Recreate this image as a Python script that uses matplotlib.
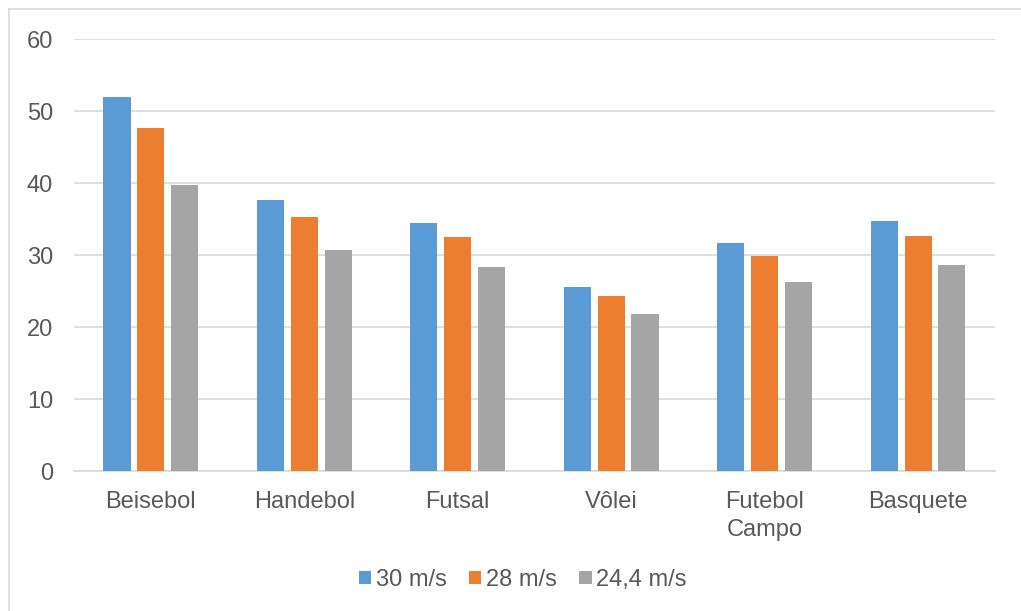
import numpy as np
import matplotlib.pyplot as plt
from matplotlib.lines import Line2D
from matplotlib.patches import Patch

categories = ["Beisebol", "Handebol", "Futsal", "Vôlei", "Futebol\nCampo", "Basquete"]
series_names = ["30 m/s", "28 m/s", "24,4 m/s"]
v30 = [51.9, 37.7, 34.5, 25.5, 31.7, 34.7]
v28 = [47.6, 35.3, 32.5, 24.3, 29.9, 32.7]
v24 = [39.8, 30.7, 28.4, 21.8, 26.3, 28.6]
yticks = [0, 10, 20, 30, 40, 50, 60]

colors = ["#5B9BD5", "#ED7D31", "#A5A5A5"]
text_color = "#595959"
grid_color = "#D9D9D9"
fs = 17

plt.rcParams["font.family"] = ["Liberation Sans", "DejaVu Sans"]

fig = plt.figure(figsize=(10.21, 6.11), dpi=100)
ax = fig.add_axes([0.0725, 0.229, 0.902, 0.707])

x = np.arange(len(categories))
width = 0.176
step = 0.22
for i, (vals, name, c) in enumerate(zip([v30, v28, v24], series_names, colors)):
    ax.bar(x + (i - 1) * step, vals, width, color=c, label=name, zorder=3)

ax.set_xlim(-0.5, len(categories) - 0.5)
ax.set_ylim(0, 60)
ax.set_yticks(yticks)
ax.set_yticklabels([str(t) for t in yticks])
ax.set_xticks(x)
ax.set_xticklabels(categories, linespacing=1.4)
ax.tick_params(axis="y", length=0, pad=15, labelsize=fs, labelcolor=text_color)
ax.tick_params(axis="x", length=0, pad=14, labelsize=fs, labelcolor=text_color)
for lbl in ax.get_xticklabels():
    lbl.set_verticalalignment("top")

ax.grid(axis="y", color=grid_color, linewidth=1.2, zorder=0)
for s in ["top", "right", "left"]:
    ax.spines[s].set_visible(False)
ax.spines["bottom"].set_color(grid_color)
ax.spines["bottom"].set_linewidth(1.2)

handles = [Patch(facecolor=c, edgecolor="none") for c in colors]
fig.legend(handles, series_names, loc="center", bbox_to_anchor=(0.512, 0.051),
           ncol=3, frameon=False, fontsize=fs, labelcolor=text_color,
           handlelength=0.52, handleheight=0.52, handletextpad=0.2,
           columnspacing=0.95)

# chart frame on the left and top edges
fig.add_artist(Line2D([9 / 1021, 9 / 1021], [0, 1 - 9 / 611], transform=fig.transFigure,
                      color=grid_color, linewidth=1.2))
fig.add_artist(Line2D([9 / 1021, 1], [1 - 9 / 611, 1 - 9 / 611], transform=fig.transFigure,
                      color=grid_color, linewidth=1.2))

fig.savefig("out.png", dpi=100, facecolor="white")
